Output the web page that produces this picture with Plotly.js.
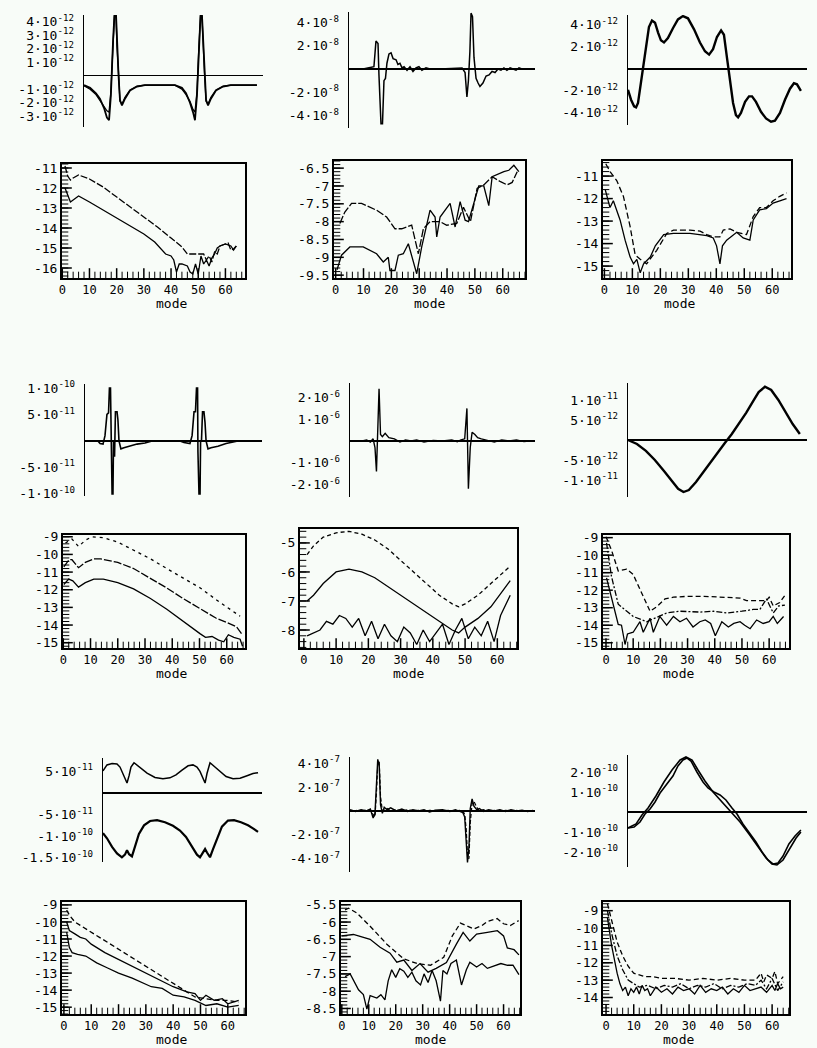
<!DOCTYPE html>
<html>
<head>
<meta charset="utf-8">
<script src="https://cdn.plot.ly/plotly-3.0.1.min.js"></script>
<style>
  body { margin: 0; background: #f8fcf8; }
  #chart { width: 817px; height: 1048px; }
</style>
</head>
<body>
<div id="chart"></div>
<script>
// ---- signal panels: t is position along the record (0..100), values in the unit of the axis labels ----
// row 1, col 1 (units 1e-12)
const p1t = [0,3.4,6.7,8.9,11.2,12.8,14,15,16.2,17,17.9,18.4,19.3,20.1,21.2,22.9,25.7,29.6,34,50.8,54.7,57,59.2,60.9,62,63.1,64.2,65.1,65.9,66.5,67.3,68.2,69.3,70.9,73.7,77.7,82,96.6];
const p1a = [-0.7,-0.9,-1.3,-1.7,-2.4,-3.1,-3.3,-1.5,2.5,4.5,4.5,2.5,0,-1.8,-2.2,-1.7,-1.1,-0.8,-0.7,-0.7,-0.9,-1.3,-2,-2.7,-3.3,-1.5,2.5,4.5,4.5,2.5,0,-1.8,-2.2,-1.7,-1.1,-0.8,-0.7,-0.7];
const p1b = [-0.75,-1.0,-1.4,-1.8,-2.3,-2.6,-2.7,-1.2,2.2,4.4,4.4,2.2,0.2,-1.9,-2.1,-1.6,-1.05,-0.78,-0.7,-0.7,-1.0,-1.4,-1.9,-2.5,-2.7,-1.2,2.2,4.4,4.4,2.2,0.2,-1.9,-2.1,-1.6,-1.05,-0.78,-0.7,-0.7];
// row 1, col 2 (units 1e-8)
const p2t = [7.5,11.3,13.4,14.5,15.6,16.1,17.2,18,18.8,19.6,20.4,21.5,22.6,23.7,25.3,26.3,27.4,28.5,29.6,31.2,32.8,34.4,36,37.6,39.2,41.4,43.5,48.9,57,60.8,62.4,63.4,64.2,65,65.6,66.4,67.2,68.3,69.4,70.4,72,73.7,75.3,76.9,78.5,80.1,81.7,83.3,84.9,86.6,88.2,89.8,91.4,93,95.7];
const p2v = [0,0.1,0.2,2.4,2.2,-0.5,-4.7,-4.7,-1.0,-0.8,0.5,1.3,1.4,0.9,0.8,0.4,0.5,0.1,0.2,-0.1,0.2,-0.2,0.1,0.2,-0.1,0.1,0,0,0.1,0.1,-0.3,-2.4,-1.0,1.5,4.8,4.5,1.0,-0.8,-1.2,-1.5,-1.2,-0.6,-0.5,-0.2,-0.3,0,-0.1,0.1,-0.1,0.1,0,-0.1,0.1,0,0];
// row 1, col 3 (units 1e-12)
const p3t = [0,1.7,3.4,4.5,5.6,6.7,8.4,10.1,11.7,13.4,15.1,16.8,18.4,20.1,22.3,25.1,27.9,30.7,33.5,36.9,40.2,43,45.3,47.5,49.7,52,53.6,55.3,57,58.7,60.3,61.5,63.1,65.4,67.6,69.3,71.5,74.3,77.1,79.9,82.1,84.9,87.7,90.5,92.7,94.4,96.6];
const p3v = [-1.9,-2.8,-3.4,-3.5,-3.1,-1.8,0,2,3.8,4.4,4.2,3.3,2.6,2.4,2.8,3.7,4.5,4.8,4.6,3.6,2.4,1.6,1.3,1.8,2.9,3.5,3.1,1.0,-1.2,-3.1,-4.2,-4.4,-4.0,-3.0,-2.5,-2.5,-3.0,-3.9,-4.5,-4.8,-4.7,-4.0,-2.8,-1.8,-1.3,-1.4,-2.0];
// row 3, col 1 (units 1e-11)
const p7t = [0,7.3,8.5,10.2,11.3,12.4,13.3,13.8,14.4,14.7,15.3,15.8,16.1,16.7,17.2,18.1,18.6,19.2,20.3,22,25.4,29.4,33.9,37.9,53.7,55.9,59.3,60.5,61.6,62.4,63,63.6,63.8,64.4,65,65.3,65.8,66.4,67.2,67.8,68.4,69.5,71.2,75.1,79.7,86.4];
const p7v = [0,0,-0.5,-0.6,1,5,5.3,10,10,-2,-10,-10,0,-3,5.5,5.5,4,0,-1.5,-1.3,-1.0,-0.6,-0.4,0,0,-0.3,-0.5,1,5.5,5.5,10,10,-2,-10,-10,0,0,5.5,5.5,3.5,0,-1.5,-1.3,-1.0,-0.5,0];
// row 3, col 2 (units 1e-6)
const p8t = [0,6.5,9,11,12.5,13.5,14.3,15,15.7,16.5,17.5,19,21,24,27,30,33,36,40,45,50,55,58,60,62,63.2,64,65,66,67.5,69,71,74,78,82,86,90,94,97];
const p8v = [0,0,0.05,-0.05,0.1,-0.3,-1.4,0.5,2.4,0.3,0.2,0.35,0.15,0.1,-0.05,0.05,0,0.05,-0.05,0.03,0,0.05,-0.03,0.05,0.1,1.5,-2.2,-0.3,0.4,0.3,0.15,0.1,0.05,-0.05,0.05,0,0.05,-0.03,0];
// row 3, col 3 (units 1e-11)
const p9t = [0,5,10,15,20,25,28,31,34,38,42,46,50,54,58,62,66,70,73,76.5,80,84,88,92,96];
const p9v = [0,-0.1,-0.27,-0.5,-0.77,-1.07,-1.22,-1.3,-1.25,-1.05,-0.8,-0.55,-0.3,-0.08,0.15,0.4,0.68,0.98,1.2,1.33,1.25,1.0,0.7,0.4,0.15];
// row 5, col 1 (units 1e-11)
const p13ta = [0,2.5,5.7,8.8,10.7,11.9,13.8,15.1,16.4,17.6,19.5,23.3,27.7,32.7,37.7,42.1,45.9,49.7,53.5,56.6,59.1,61,62.9,64.2,65.4,67.3,70.4,73.6,77.4,81.8,86.2,90.6,94.3,97.5];
const p13a = [5.1,6.5,6.8,6.7,6.0,5.0,3.0,2.3,4.0,6.0,7.0,5.8,4.6,3.6,3.3,3.5,4.2,5.3,6.3,6.5,6.0,5.0,3.2,2.3,4.5,7.0,6.0,4.9,3.8,3.3,3.4,4.0,4.5,4.7];
const p13tb = [0,2.5,5.7,8.8,11.9,13.8,15.1,16.4,18.2,20.1,22.6,25.8,29.6,34,39,44,48.4,52.2,56,59.1,61,62.9,64.2,65.4,67.3,69.2,71.7,74.8,78.6,82.4,86.8,91.2,94.3,97.5];
const p13b = [-9.3,-10.5,-12.5,-14.0,-14.9,-14.3,-13.3,-14.2,-14.7,-12.5,-9.5,-7.5,-6.5,-6.3,-6.8,-7.6,-8.7,-10.2,-12.5,-14.3,-14.9,-13.8,-13.0,-13.8,-14.9,-13.0,-10.5,-7.8,-6.4,-6.3,-6.8,-7.5,-8.2,-9.0];
// row 5, col 2 (units 1e-7)
const p14t = [0,3,6,9,11,12.5,13.5,14.3,15,15.8,16.5,17.5,18.5,20,22,25,28,31,34,37,40,43,46,50,54,57,59,61,62,62.8,63.5,64.3,65,66,67,68.5,70,72,75,78,81,84,87,90,93,96,99];
const p14a = [0.1,-0.05,0.1,0,0.15,-0.6,-0.2,2.5,4.3,3.8,0.5,-0.2,0.3,0.1,0.25,0,0.15,-0.05,0.1,0,0.1,-0.1,0.05,0.1,-0.05,0.1,0,-0.15,-0.5,-2.5,-4.3,-3.0,0.2,1.0,0.4,0.1,0.2,-0.05,0.1,0,0.1,-0.05,0.1,0,0.05,-0.05,0.05];
const p14b = [0,0.05,-0.05,0.1,0,-0.3,-0.5,1.5,3.9,4.1,1.2,0,0.1,0.2,0,0.1,0,0.1,0,0.05,-0.05,0.05,0,0,0.05,-0.05,0.05,0,-0.3,-1.5,-3.6,-4.0,-1.0,0.6,0.8,0.3,0,0.1,0,0.05,-0.05,0.05,0,0.05,-0.05,0,0];
// row 5, col 3 (units 1e-10)
const p15ta = [0,3.4,6.7,9.5,12.3,15.1,17.9,21.8,25.1,27.9,30.7,33,35.2,38.5,41.9,44.7,48,51.4,54.7,58.1,60.9,64.2,68.2,71.5,74.9,78.2,81,83.8,86.6,89.9,93.3,96.6];
const p15a = [-0.8,-0.75,-0.5,-0.1,0.15,0.5,0.95,1.4,1.8,2.3,2.6,2.7,2.55,2.0,1.5,1.2,1.0,0.85,0.6,0.2,-0.1,-0.6,-1.1,-1.5,-2.0,-2.4,-2.6,-2.55,-2.2,-1.6,-1.2,-0.9];
const p15tb = [0,4.5,7.8,11.2,15.6,20.1,24.6,29.1,32.4,35.8,39.1,43,47.5,52.5,57.5,62.6,67.6,72.6,77.1,80.4,83.2,86.6,90.5,93.9,96.6];
const p15b = [-0.8,-0.6,-0.15,0.2,0.8,1.5,2.1,2.6,2.75,2.6,2.1,1.55,1.0,0.5,0.0,-0.5,-1.1,-1.7,-2.3,-2.6,-2.65,-2.4,-1.8,-1.3,-1.0];

// ---- spectrum panels: log10 amplitude against mode ----
// row 2, col 1
const p4ma = [1,2,3,4,6,10,15,20,25,30,35,40,44,46,48,50,52,53,54,55,56,57,58,60,61,62,63,64];
const p4va = [-10.9,-11.4,-11.6,-11.5,-11.35,-11.55,-11.95,-12.45,-12.95,-13.45,-13.95,-14.5,-14.95,-15.3,-15.3,-15.3,-15.3,-15.6,-15.4,-15.7,-15.2,-15.3,-14.9,-14.8,-14.75,-15.1,-15.05,-14.9];
const p4mb = [1,2,3,4,6,10,15,20,25,30,34,36,38,40,41,42,43,44,46,47,48,49,50,51,52,53,54,55,56,57,58,60,62,63,64];
const p4vb = [-12,-12.4,-12.7,-12.6,-12.4,-12.7,-13.1,-13.5,-13.9,-14.3,-14.7,-15.0,-15.3,-15.4,-15.6,-16.2,-15.8,-15.8,-15.9,-16.2,-16.3,-15.8,-16.3,-15.4,-15.8,-15.6,-15.9,-15.5,-15.3,-15.0,-14.9,-14.8,-14.9,-15.1,-14.9];
// row 2, col 2
const p5ma = [1.5,3.3,5.7,9.3,14.7,18.3,21.3,23.7,27.3,29.7,31.5,33.9,37.5,39.9,43.5,45.9,48.4,50.8,53.2,56.2,59.2,61.6,63.4,65.2];
const p5va = [-8.05,-7.73,-7.49,-7.49,-7.68,-7.87,-8.2,-8.2,-8.1,-8.9,-8.2,-8.0,-8.0,-8.1,-8.05,-7.6,-8.0,-7.07,-6.97,-6.74,-6.88,-6.97,-6.9,-6.6];
const p5mb = [0.5,2.1,5.1,9.9,14.7,17.1,18.9,19.5,21.3,22.5,24.3,26.1,29.1,30.9,33.9,35.7,36.3,37.5,41.1,42.9,44.7,46.5,47.7,49.5,51.4,53.2,55,56.2,58.6,60.4,62.2,64,65.8];
const p5vb = [-9.35,-8.94,-8.71,-8.71,-8.9,-9.13,-9.0,-9.37,-9.37,-8.94,-8.9,-8.62,-9.46,-8.71,-7.68,-7.87,-8.43,-7.87,-7.49,-8.15,-7.44,-7.96,-8.0,-7.5,-7.0,-7.0,-7.55,-6.74,-6.65,-6.6,-6.56,-6.42,-6.6];
// row 2, col 3
const p6ma = [0.5,2,4.4,6.8,9.2,11,12.8,15.1,18.7,22.3,24.7,30.6,34.2,36.6,38.9,41.3,42.5,44.9,47.3,50.8,53.2,55.5,57.9,60.3,62.7,65.1];
const p6va = [-10.45,-10.8,-11.2,-11.9,-13.25,-14.5,-14.7,-14.9,-14.3,-13.55,-13.4,-13.4,-13.45,-13.6,-13.7,-13.7,-13.4,-13.35,-13.5,-13.6,-12.8,-12.4,-12.4,-12.1,-11.9,-11.75];
const p6mb = [0.3,2,3.2,5.6,7.4,9.2,10.4,11.6,12.8,14,16.4,18.2,21.2,24.7,30.6,34.2,36.6,38.9,40.1,41.3,42.2,43.7,47.3,49.6,52,53.2,55.5,57.9,60.3,62.7,65.1];
const p6vb = [-11.6,-12.4,-12.1,-12.95,-13.85,-14.6,-14.9,-14.7,-15.3,-14.9,-14.6,-14.1,-13.6,-13.55,-13.55,-13.6,-13.65,-13.75,-14.1,-14.9,-14.1,-13.85,-13.5,-13.75,-13.85,-12.95,-12.5,-12.45,-12.2,-12.1,-12.0];
// row 4, col 1
const p10ma = [0.8,3.2,5.6,8.1,10.5,14.7,20,25.7,32,38,44,50.3,56,60,64.9];
const p10va = [-9.35,-9.13,-9.55,-9.2,-9.0,-9.05,-9.3,-9.74,-10.25,-10.8,-11.35,-11.9,-12.55,-13.0,-13.5];
const p10mb = [0.2,2.1,3.2,5.6,8.1,11.2,13.7,20,25.8,32,38,44,50.3,56,60,63.6,65.5];
const p10vb = [-10.7,-10.3,-10.3,-10.75,-10.45,-10.25,-10.25,-10.45,-10.8,-11.35,-11.9,-12.5,-13.1,-13.6,-13.85,-14.1,-14.5];
const p10mc = [0.2,2,3.5,5.6,8.1,11.2,14.7,20,25.8,32,38,44,50.3,52.2,54.6,57,58.9,60.6,62.6,64.9,65.8];
const p10vc = [-11.7,-11.4,-11.5,-11.85,-11.6,-11.4,-11.4,-11.6,-11.95,-12.5,-13.1,-13.8,-14.5,-14.7,-14.65,-14.85,-14.95,-14.55,-14.7,-14.8,-15.2];
// row 4, col 2
const p11ma = [1,3,6,10,14,18,22,26,30,34,38,42,46,48,50,54,58,62,64];
const p11va = [-5.4,-5.1,-4.8,-4.65,-4.6,-4.7,-4.9,-5.2,-5.6,-6.0,-6.4,-6.8,-7.1,-7.2,-7.1,-6.8,-6.4,-6.0,-5.8];
const p11vb = [-7.0,-6.8,-6.4,-6.0,-5.9,-6.0,-6.2,-6.5,-6.8,-7.1,-7.4,-7.7,-8.0,-8.1,-7.9,-7.6,-7.2,-6.6,-6.3];
const p11mc = [1,3,5,7,9,11,13,15,17,19,21,23,25,27,29,31,33,35,37,39,41,43,45,47,49,51,53,55,57,59,61,63,64];
const p11vc = [-8.2,-8.1,-8.0,-7.7,-7.8,-7.5,-7.6,-7.9,-7.6,-8.2,-7.7,-8.3,-7.8,-8.2,-8.4,-7.9,-8.1,-8.5,-8.0,-8.4,-8.1,-7.8,-8.5,-8.0,-7.6,-8.3,-7.9,-8.2,-7.7,-8.4,-7.5,-7.0,-6.8];
// row 4, col 3
const p12ma = [0,2,4.5,7.6,10,13,16.2,18.6,21.7,24.8,30,36,43.1,49.3,51.7,56,59,60,61.5,63.9,65.8];
const p12va = [-8.95,-9.7,-10.9,-10.8,-11.1,-12.1,-13.2,-12.95,-12.5,-12.4,-12.35,-12.35,-12.4,-12.45,-12.6,-12.6,-12.6,-12.4,-12.9,-12.7,-12.3];
const p12mb = [0.2,2,4.5,7.6,10,15,22.3,27.2,34.6,39.5,44.4,50,54.2,56.6,59,61.5,63.5,65.8];
const p12vb = [-9.3,-11.2,-12.8,-13.2,-13.5,-13.8,-13.3,-13.2,-13.25,-13.2,-13.3,-13.2,-13.1,-13.1,-12.5,-13.3,-12.9,-12.85];
const p12mc = [0.2,2,4.5,5.7,7,7.9,10,12.5,13.7,16.2,17.4,19.8,22.3,24.8,27.2,29.6,32,34.5,36.5,38.5,40.2,42.6,45,47,49.3,51,53,55.4,57.8,60,61.5,63,65.3];
const p12vc = [-11.3,-12.4,-13.95,-14.0,-15.1,-14.5,-14.4,-13.8,-14.4,-13.6,-14.4,-13.5,-14.0,-13.5,-13.8,-13.6,-14.1,-13.8,-13.7,-13.9,-14.6,-13.8,-14.1,-13.9,-13.8,-14.0,-14.2,-13.7,-13.9,-13.8,-13.5,-13.9,-13.5];
// row 6, col 1
const p16ma = [1,2,4,8,15,20,25,30,35,40,45,48,52,56,60,64];
const p16va = [-9.3,-9.6,-10.0,-10.4,-11.1,-11.6,-12.1,-12.6,-13.1,-13.6,-14.1,-14.4,-14.5,-14.6,-14.6,-14.7];
const p16mb = [1,2,4,6,8,10,15,20,25,30,35,40,45,48,50,52,55,58,60,64];
const p16vb = [-10.0,-10.5,-10.7,-10.9,-11.0,-11.3,-11.8,-12.2,-12.6,-13.0,-13.4,-13.8,-14.1,-14.2,-14.6,-14.3,-14.6,-14.5,-14.8,-14.6];
const p16mc = [1,2,3,5,8,12,16,20,25,28,32,36,40,44,48,52,56,60,64];
const p16vc = [-10.6,-11.5,-11.8,-11.9,-12.0,-12.4,-12.7,-13.0,-13.3,-13.5,-13.8,-13.9,-14.3,-14.4,-14.6,-14.9,-14.8,-15.0,-14.9];
// row 6, col 2
const p17ma = [1.2,2.5,5.6,10.5,16.7,22.9,27.9,32.9,37.8,41,44,46,49,52,54,57.6,60,62.5,65.6];
const p17va = [-5.65,-5.6,-5.74,-6.12,-6.64,-7.06,-7.2,-7.25,-7.02,-6.4,-6.03,-6.1,-6.2,-6.1,-5.98,-5.9,-6.05,-6.1,-5.96];
const p17mb = [0,4.3,10.5,14.2,17.9,20.4,23,26,29,32,35,38.8,42.5,45,47.5,50,54,57.7,60,61.4,63.9,65.7];
const p17vb = [-6.4,-6.36,-6.5,-6.73,-6.9,-7.16,-7.1,-7.4,-7.2,-7.45,-7.34,-7.17,-6.64,-6.3,-6.55,-6.35,-6.3,-6.25,-6.4,-6.75,-6.8,-6.95];
const p17mc = [1.2,3.1,6.2,8,9.3,10.5,13,14.5,16,17.2,18.5,20,21.5,23,24.5,26,27.5,29.2,30.5,32,33.5,35,36.6,37.5,39,40.5,42.5,44.4,46.2,47.5,50,52,54,56.5,59,61.5,63.5,65.7];
const p17vc = [-7.58,-7.5,-7.96,-8.1,-8.52,-8.13,-8.2,-8.1,-8.25,-7.7,-7.38,-7.6,-7.35,-7.42,-7.6,-7.45,-7.7,-7.82,-7.5,-7.75,-7.4,-7.7,-8.29,-7.4,-7.5,-7.2,-7.1,-7.82,-7.38,-7.16,-7.3,-7.2,-7.34,-7.26,-7.2,-7.25,-7.25,-7.52];
// row 6, col 3
const p18ma = [0.5,2,4,6,8,10,12,14,17,20,25,30,35,40,45,50,54,56,57,58,60,61,62,64];
const p18va = [-8.6,-9.6,-10.8,-11.6,-12.2,-12.6,-12.7,-12.8,-12.8,-12.9,-12.9,-13.0,-12.9,-13.0,-12.9,-13.0,-13.0,-12.6,-13.1,-12.7,-12.9,-12.5,-13.2,-12.8];
const p18mb = [0.5,2,4,6,8,10,12,15,18,21,24,27,30,33,36,39,42,45,48,51,54,56,58,60,62,64];
const p18vb = [-9.0,-10.3,-11.6,-12.4,-13.0,-13.2,-13.4,-13.3,-13.5,-13.3,-13.4,-13.2,-13.5,-13.3,-13.4,-13.2,-13.5,-13.3,-13.4,-13.2,-13.3,-13.0,-13.5,-12.9,-13.6,-13.1];
const p18mc = [0.5,2,4,5,6,7,8,9,10,11,12,13,14,15,16,18,20,22,24,26,28,30,32,34,36,38,40,42,44,46,48,50,52,54,56,58,60,61,62,63,64];
const p18vc = [-9.4,-11.0,-12.6,-13.2,-13.6,-13.4,-13.9,-13.5,-13.7,-13.4,-13.8,-13.3,-13.6,-13.5,-13.9,-13.4,-13.7,-13.5,-13.8,-13.4,-13.6,-13.5,-13.8,-13.3,-13.7,-13.5,-13.6,-13.4,-13.8,-13.5,-13.7,-13.3,-13.6,-13.5,-13.4,-13.7,-13.3,-13.6,-13.2,-13.5,-13.4];

const modeTicks = [0, 10, 20, 30, 40, 50, 60];

const W = 817, H = 1048;
const BG = '#f8fcf8';
const FONT = 'DejaVu Sans Mono, monospace';
const NOTICK = 'rgba(0,0,0,0)';
const traces = [];
const layout = {
  width: W, height: H,
  margin: { l: 0, r: 0, t: 0, b: 0 },
  paper_bgcolor: BG, plot_bgcolor: BG,
  showlegend: false,
  font: { family: FONT, size: 13, color: '#000' },
  annotations: []
};

// box = [left, right, top, bottom] in page pixels
function domain(box) {
  return { x: [box[0] / W, box[1] / W], y: [1 - box[3] / H, 1 - box[2] / H] };
}

function axisNames(n) {
  const s = n === 1 ? '' : String(n);
  return { xk: 'xaxis' + s, yk: 'yaxis' + s, xr: 'x' + s, yr: 'y' + s };
}

function addLines(n, series) {
  const a = axisNames(n);
  series.forEach(s => traces.push({
    x: s.x, y: s.y, xaxis: a.xr, yaxis: a.yr,
    type: 'scatter', mode: 'lines', hoverinfo: 'skip',
    line: { color: '#000', width: s.w || 1.3, dash: s.dash || 'solid' }
  }));
}

// multiples of step inside [lo, hi]
function steps(lo, hi, step) {
  const out = [];
  for (let k = Math.ceil(lo / step - 1e-9); k * step <= hi + 1e-9; k++) out.push(+(k * step).toFixed(6));
  return out;
}

// axis tick marks drawn as line markers sitting on the axis
function tickMarks(n, xs, ys, symbol, size, width, clip) {
  const a = axisNames(n);
  traces.push({
    x: xs, y: ys, xaxis: a.xr, yaxis: a.yr, type: 'scatter', mode: 'markers',
    hoverinfo: 'skip', cliponaxis: clip,
    marker: { symbol: symbol, size: size, color: '#000', line: { width: width, color: '#000' } }
  });
}

function sci(v, exp) {
  return v + '\u00b710<sup>' + exp + '</sup>';
}

function signalPanel(n, box, yRange, tickVals, tickText, minorStep, series) {
  const a = axisNames(n), d = domain(box);
  layout[a.xk] = { domain: d.x, range: [0, 100], visible: false, anchor: a.yr, fixedrange: true };
  layout[a.yk] = {
    domain: d.y, range: yRange, anchor: a.xr,
    showline: true, linewidth: 1.5, linecolor: '#000',
    showgrid: false, zeroline: true, zerolinecolor: '#000', zerolinewidth: 1.3,
    ticks: 'outside', ticklen: 6, tickcolor: NOTICK,
    tickmode: 'array', tickvals: tickVals, ticktext: tickText,
    tickfont: { family: FONT, size: 13 },
    automargin: false, fixedrange: true
  };
  addLines(n, series);
  // ticks hang to the left of the axis line: shift by half their length (in x units)
  const pxUnit = 100 / (box[1] - box[0]);
  const minor = steps(yRange[0], yRange[1], minorStep);
  tickMarks(n, minor.map(() => -1.6 * pxUnit), minor, 'line-ew', 3, 1, false);
  tickMarks(n, tickVals.map(() => -3 * pxUnit), tickVals, 'line-ew', 6, 1.3, false);
}

function spectrumPanel(n, box, xRange, yRange, yTicks, yMinor, series) {
  const a = axisNames(n), d = domain(box);
  layout[a.xk] = {
    domain: d.x, range: xRange, anchor: a.yr,
    showline: true, mirror: true, linewidth: 2, linecolor: '#000',
    showgrid: false, zeroline: false,
    ticks: 'inside', ticklen: 6, tickcolor: NOTICK,
    tickmode: 'array', tickvals: modeTicks, ticktext: modeTicks.map(String),
    tickfont: { family: FONT, size: 12 },
    automargin: false, fixedrange: true
  };
  layout[a.yk] = {
    domain: d.y, range: yRange, anchor: a.xr,
    showline: true, mirror: true, linewidth: 2, linecolor: '#000',
    showgrid: false, zeroline: false,
    ticks: 'inside', ticklen: 6, tickcolor: NOTICK,
    tickmode: 'array', tickvals: yTicks, ticktext: yTicks.map(String),
    tickfont: { family: FONT, size: 13 },
    automargin: false, fixedrange: true
  };
  addLines(n, series);
  // inside ticks: markers centred on the frame, the outer half is clipped away
  const xMinor = steps(Math.max(0, xRange[0]), xRange[1], 2).filter(v => v % 10 !== 0);
  const yMinorVals = steps(yRange[0], yRange[1], yMinor);
  tickMarks(n, xMinor, xMinor.map(() => yRange[0]), 'line-ns', 9, 1, true);
  tickMarks(n, modeTicks, modeTicks.map(() => yRange[0]), 'line-ns', 14, 1.5, true);
  tickMarks(n, yMinorVals.map(() => xRange[0]), yMinorVals, 'line-ew', 9, 1, true);
  tickMarks(n, yTicks.map(() => xRange[0]), yTicks, 'line-ew', 14, 1.5, true);
  layout.annotations.push({
    text: 'mode', xref: 'paper', yref: 'paper', x: (d.x[0] + d.x[1]) / 2, y: d.y[0],
    yanchor: 'middle', yshift: -25, showarrow: false, font: { family: FONT, size: 13 }
  });
}

// row 1
signalPanel(1, [84, 263, 15, 127], [-3.8, 4.5], [-3, -2, -1, 1, 2, 3, 4],
  [-3, -2, -1, 1, 2, 3, 4].map(v => sci(v, '-12')), 0.2,
  [{ x: p1t, y: p1b, w: 1.3 }, { x: p1t, y: p1a, w: 1.8 }]);
signalPanel(2, [349, 535, 12, 128], [-5.06, 4.9], [-4, -2, 2, 4],
  [-4, -2, 2, 4].map(v => sci(v, '-8')), 0.4,
  [{ x: p2t, y: p2v, w: 1.5 }]);
signalPanel(3, [628, 807, 15, 125], [-5.1, 4.9], [-4, -2, 2, 4],
  [-4, -2, 2, 4].map(v => sci(v, '-12')), 0.4,
  [{ x: p3t, y: p3v, w: 2.4 }]);

// row 2
spectrumPanel(4, [62, 245, 164, 278], [-0.1, 67.2], [-16.5, -10.8], [-11, -12, -13, -14, -15, -16], 0.2,
  [{ x: p4ma, y: p4va, dash: '7px,2px' }, { x: p4mb, y: p4vb }]);
spectrumPanel(5, [334, 525, 161, 278], [-0.6, 68], [-9.58, -6.3], [-6.5, -7, -7.5, -8, -8.5, -9, -9.5], 0.1,
  [{ x: p5ma, y: p5va, dash: '8px,2px' }, { x: p5mb, y: p5vb }]);
spectrumPanel(6, [603, 791, 161, 278], [-0.5, 66.7], [-15.53, -10.33], [-11, -12, -13, -14, -15], 0.2,
  [{ x: p6ma, y: p6va, dash: '6px,3px' }, { x: p6mb, y: p6vb }]);

// row 3
signalPanel(7, [85, 262, 384, 496], [-10.4, 10.75], [-10, -5, 5, 10],
  [sci(-1, '-10'), sci(-5, '-11'), sci(5, '-11'), sci(1, '-10')], 1,
  [{ x: p7t, y: p7v, w: 1.6 }]);
signalPanel(8, [350, 535, 383, 497], [-2.58, 2.67], [-2, -1, 1, 2],
  [-2, -1, 1, 2].map(v => sci(v, '-6')), 0.2,
  [{ x: p8t, y: p8v, w: 1.4 }]);
signalPanel(9, [628, 807, 383, 497], [-1.425, 1.425], [-1, -0.5, 0.5, 1],
  [sci(-1, '-11'), sci(-5, '-12'), sci(5, '-12'), sci(1, '-11')], 0.1,
  [{ x: p9t, y: p9v, w: 2.4 }]);

// row 4
spectrumPanel(10, [63, 245, 535, 648], [-0.1, 66.7], [-15.3, -8.9], [-9, -10, -11, -12, -13, -14, -15], 0.2,
  [{ x: p10ma, y: p10va, dash: '3px,4px' }, { x: p10mb, y: p10vb, dash: '8px,2px' }, { x: p10mc, y: p10vc }]);
spectrumPanel(11, [300, 517, 529, 648], [-1.2, 66.1], [-8.62, -4.52], [-5, -6, -7, -8], 0.2,
  [{ x: p11ma, y: p11va, dash: '4px,3px' }, { x: p11ma, y: p11vb }, { x: p11mc, y: p11vc }]);
spectrumPanel(12, [603, 789, 535, 648], [-1.1, 67.3], [-15.3, -8.85], [-9, -10, -11, -12, -13, -14, -15], 0.2,
  [{ x: p12ma, y: p12va, dash: '5px,3px' }, { x: p12mb, y: p12vb, dash: '6px,2px,2px,2px' }, { x: p12mc, y: p12vc }]);

// row 5
signalPanel(13, [103, 262, 758, 862], [-16, 8.1], [-15, -10, -5, 5],
  [sci(-1.5, '-10'), sci(-1, '-10'), sci(-5, '-11'), sci(5, '-11')], 1,
  [{ x: p13ta, y: p13a, w: 1.5 }, { x: p13tb, y: p13b, w: 2.2 }]);
signalPanel(14, [350, 535, 757, 872], [-5.1, 4.5], [-4, -2, 2, 4],
  [-4, -2, 2, 4].map(v => sci(v, '-7')), 0.4,
  [{ x: p14t, y: p14b, w: 1.2, dash: '4px,2px' }, { x: p14t, y: p14a, w: 1.4 }]);
signalPanel(15, [628, 807, 755, 867], [-2.75, 2.85], [-2, -1, 1, 2],
  [-2, -1, 1, 2].map(v => sci(v, '-10')), 0.2,
  [{ x: p15ta, y: p15a, w: 1.6 }, { x: p15tb, y: p15b, w: 1.6 }]);

// row 6 (a few pixels higher so that its titles stay on the page)
spectrumPanel(16, [62, 245, 902, 1014], [-0.7, 66.3], [-15.4, -8.83], [-9, -10, -11, -12, -13, -14, -15], 0.2,
  [{ x: p16ma, y: p16va, dash: '5px,3px' }, { x: p16mb, y: p16vb }, { x: p16mc, y: p16vc }]);
spectrumPanel(17, [341, 520, 902, 1014], [-0.3, 66.1], [-8.66, -5.42], [-5.5, -6, -6.5, -7, -7.5, -8, -8.5], 0.1,
  [{ x: p17ma, y: p17va, dash: '5px,3px' }, { x: p17mb, y: p17vb }, { x: p17mc, y: p17vc }]);
spectrumPanel(18, [603, 789, 902, 1014], [-1.1, 66.1], [-14.95, -8.5], [-9, -10, -11, -12, -13, -14], 0.2,
  [{ x: p18ma, y: p18va, dash: '5px,3px' }, { x: p18mb, y: p18vb, dash: '6px,2px,2px,2px' }, { x: p18mc, y: p18vc }]);

Plotly.newPlot('chart', traces, layout, { staticPlot: true, displayModeBar: false });
</script>
</body>
</html>
